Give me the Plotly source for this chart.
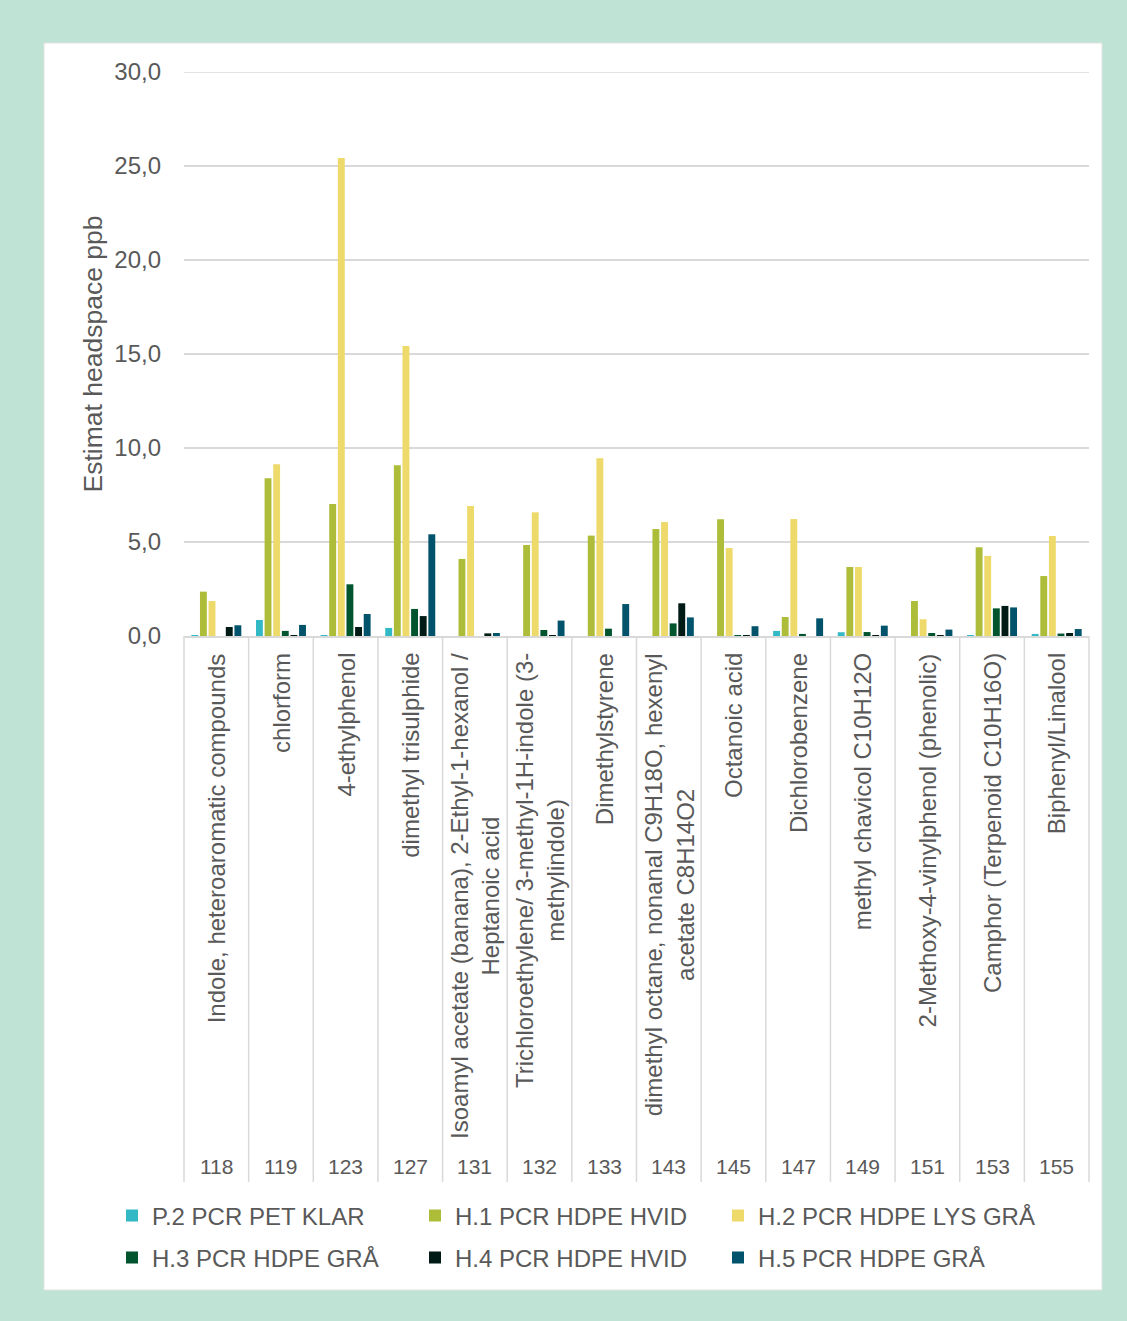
import plotly.graph_objects as go

# Sample numbers and compound names
codes = ["118", "119", "123", "127", "131", "132", "133",
         "143", "145", "147", "149", "151", "153", "155"]
compounds = [
    "Indole, heteroaromatic compounds",
    "chlorform",
    "4-ethylphenol",
    "dimethyl trisulphide",
    "Isoamyl acetate (banana), 2-Ethyl-1-hexanol /<br>Heptanoic acid",
    "Trichloroethylene/ 3-methyl-1H-indole (3-<br>methylindole)",
    "Dimethylstyrene",
    "dimethyl octane, nonanal C9H18O, hexenyl<br>acetate C8H14O2",
    "Octanoic acid",
    "Dichlorobenzene",
    "methyl chavicol C10H12O",
    "2-Methoxy-4-vinylphenol (phenolic)",
    "Camphor (Terpenoid C10H16O)",
    "Biphenyl/Linalool",
]

# Estimated headspace concentration (ppb) per material
p2_pet_klar = [0.02, 0.85, 0.05, 0.43, 0, 0, 0, 0, 0, 0.27, 0.20, 0, 0.05, 0.11]
h1_hdpe_hvid = [2.36, 8.39, 7.02, 9.08, 4.10, 4.84, 5.34, 5.69, 6.21, 1.01, 3.67, 1.86, 4.72, 3.19]
h2_hdpe_lys_gra = [1.86, 9.13, 25.43, 15.43, 6.91, 6.58, 9.45, 6.06, 4.68, 6.22, 3.67, 0.89, 4.26, 5.32]
h3_hdpe_gra = [0, 0.27, 2.75, 1.44, 0, 0.32, 0.39, 0.67, 0.02, 0.11, 0.21, 0.16, 1.47, 0.13]
h4_hdpe_hvid = [0.48, 0.05, 0.48, 1.06, 0.14, 0.05, 0, 1.74, 0.02, 0, 0.05, 0.05, 1.60, 0.16]
h5_hdpe_gra = [0.57, 0.59, 1.17, 5.41, 0.16, 0.82, 1.70, 0.99, 0.52, 0.94, 0.55, 0.34, 1.52, 0.37]

series_names = ["P.2 PCR PET KLAR", "H.1 PCR HDPE HVID", "H.2 PCR HDPE LYS GRÅ",
                "H.3 PCR HDPE GRÅ", "H.4 PCR HDPE HVID", "H.5 PCR HDPE GRÅ"]
series_values = [p2_pet_klar, h1_hdpe_hvid, h2_hdpe_lys_gra,
                 h3_hdpe_gra, h4_hdpe_hvid, h5_hdpe_gra]
series_colors = ["#33b8c6", "#adbd3a", "#eed96b", "#00552e", "#001b16", "#00536b"]

y_max = 30
y_ticks = [0, 5, 10, 15, 20, 25, 30]

FONT = "Liberation Sans, Arial, sans-serif"
TEXT = "#595959"
GRID = "#d9d9d9"

W, H = 1127, 1321
L, R, T, B = 184, 38, 72, 685
plot_h = H - T - B
n = len(codes)


def py(pixel_y):
    """Convert a page pixel row into paper y coordinates."""
    return (H - B - pixel_y) / plot_h


def px(pixel_x):
    return (pixel_x - L) / (W - L - R)


def cat_center(i):
    """Paper x of the middle of category slot i."""
    return (i + 0.5) / n


# legend grid: three columns, two rows (one small legend per series)
legend_cols = [112, 415, 718]
legend_rows = [1216, 1258]

fig = go.Figure()
legends = {}
for i, (name, vals, col) in enumerate(zip(series_names, series_values, series_colors)):
    key = "legend" if i == 0 else f"legend{i + 1}"
    fig.add_trace(go.Bar(
        x=codes, y=vals, name=name,
        marker=dict(color=col, line=dict(width=0)),
        legend=key, showlegend=True,
    ))
    legends[key] = dict(
        x=px(legend_cols[i % 3]), y=py(legend_rows[i // 3]),
        orientation="h", xanchor="left", yanchor="middle",
        font=dict(family=FONT, size=24, color=TEXT),
        bgcolor="rgba(0,0,0,0)", borderwidth=0,
    )

shapes = [
    # white card on the green frame
    dict(type="rect", xref="paper", yref="paper", layer="below",
         x0=px(44), x1=px(1102), y0=py(1290), y1=py(43),
         fillcolor="white", line=dict(color="#e2e2e2", width=1)),
    # gridline along the top of the value range
    dict(type="line", xref="paper", yref="y", layer="below",
         x0=0, x1=1, y0=y_max, y1=y_max,
         line=dict(color=GRID, width=1.5)),
]
# category separators running down through the label area
for k in range(n + 1):
    shapes.append(dict(type="line", xref="paper", yref="paper",
                       x0=k / n, x1=k / n, y0=0, y1=py(1182),
                       line=dict(color=GRID, width=1.5)))

annotations = []
for i, (code, name) in enumerate(zip(codes, compounds)):
    annotations.append(dict(
        x=cat_center(i), xref="paper", y=py(651), yref="paper",
        text=name, textangle=-90, showarrow=False,
        xanchor="center", yanchor="top", align="center",
        font=dict(family=FONT, size=24, color=TEXT),
    ))
    annotations.append(dict(
        x=cat_center(i), xref="paper", y=py(1166), yref="paper",
        text=code, showarrow=False, xanchor="center", yanchor="middle",
        font=dict(family=FONT, size=21, color=TEXT),
    ))

fig.update_layout(
    width=W, height=H,
    margin=dict(l=L, r=R, t=T, b=B, autoexpand=False),
    paper_bgcolor="#bfe3d4", plot_bgcolor="white",
    separators=", ",
    showlegend=True,
    barmode="group", bargap=0.2, bargroupgap=0.2,
    font=dict(family=FONT, color=TEXT),
    shapes=shapes, annotations=annotations,
    xaxis=dict(type="category", range=[-0.5, n - 0.5],
               showticklabels=False, showgrid=False, zeroline=False,
               showline=True, linecolor=GRID, linewidth=1.5, ticks=""),
    yaxis=dict(range=[0, y_max], tickvals=y_ticks,
               tickformat=".1f",
               showgrid=True, gridcolor=GRID, gridwidth=1.5,
               zeroline=False, showline=False, ticks="",
               ticklabelstandoff=22,
               tickfont=dict(family=FONT, size=24, color=TEXT),
               title=dict(text="Estimat headspace ppb", standoff=4,
                          font=dict(family=FONT, size=26.5, color=TEXT))),
    **legends,
)

fig.write_html("out.html")
